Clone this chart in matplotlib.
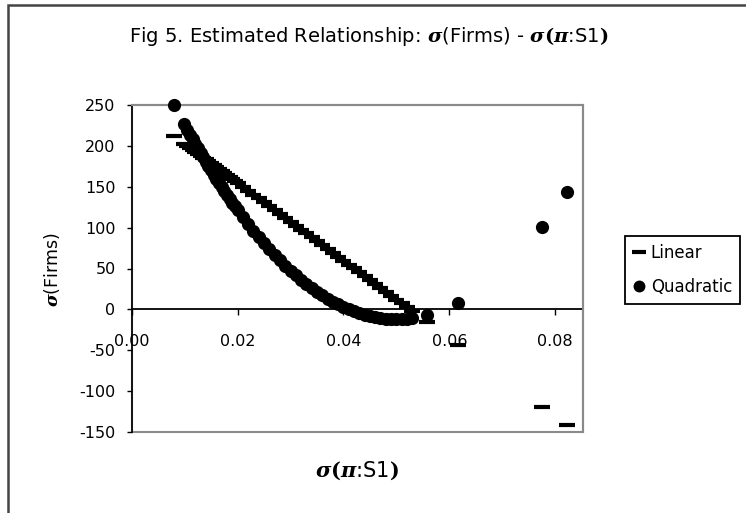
import matplotlib
matplotlib.use('Agg')
import matplotlib.pyplot as plt
from matplotlib.patches import Rectangle

# ---- data ----
x_vals = [0.00805, 0.0099, 0.0105, 0.011, 0.0115, 0.012, 0.0125, 0.013, 0.0135,
          0.014, 0.0145, 0.015, 0.0155, 0.016, 0.0165, 0.017, 0.0175, 0.018,
          0.0185, 0.019, 0.0195, 0.020, 0.021, 0.022, 0.023, 0.024, 0.025,
          0.026, 0.027, 0.028, 0.029, 0.030, 0.031, 0.032, 0.033, 0.034,
          0.035, 0.036, 0.037, 0.038, 0.039, 0.040, 0.041, 0.042, 0.043,
          0.044, 0.045, 0.046, 0.047, 0.048, 0.049, 0.050, 0.051, 0.052,
          0.053, 0.0558, 0.0617, 0.0775, 0.0823]

linear_vals = [211.7, 202.9, 200.0, 197.6, 195.3, 192.9, 190.5, 188.1, 185.7,
               183.4, 181.0, 178.6, 176.2, 173.8, 171.5, 169.1, 166.7, 164.3,
               161.9, 159.6, 157.2, 154.8, 150.0, 145.3, 140.5, 135.8, 131.0,
               126.2, 121.5, 116.7, 112.0, 107.2, 102.4, 97.7, 92.9, 88.2,
               83.4, 78.6, 73.9, 69.1, 64.4, 59.6, 54.8, 50.1, 45.3,
               40.6, 35.8, 31.0, 26.3, 21.5, 16.8, 12.0, 7.2, 2.5,
               -2.3, -15.6, -43.7, -118.9, -141.7]

quadratic_vals = [249.4, 226.8, 219.7, 213.9, 208.2, 202.5, 196.9, 191.3, 185.9,
                  180.5, 175.2, 169.9, 164.8, 159.7, 154.7, 149.7, 144.9, 140.1,
                  135.4, 130.7, 126.2, 121.7, 112.9, 104.4, 96.3, 88.4, 80.8,
                  73.6, 66.6, 59.9, 53.5, 47.4, 41.6, 36.1, 30.9, 26.0,
                  21.4, 17.1, 13.1, 9.4, 6.0, 2.9, 0.0, -2.5, -4.7,
                  -6.7, -8.3, -9.6, -10.7, -11.4, -11.9, -12.0, -11.9, -11.4,
                  -10.7, -7.0, 8.3, 100.3, 143.0]

x_ticks = [0.00, 0.02, 0.04, 0.06, 0.08]
x_tick_labels = ['0.00', '0.02', '0.04', '0.06', '0.08']
y_ticks = [-150, -100, -50, 0, 50, 100, 150, 200, 250]
y_tick_labels = ['-150', '-100', '-50', '0', '50', '100', '150', '200', '250']
series_names = ['Linear', 'Quadratic']

plt.rcParams['font.family'] = ['DejaVu Sans']
plt.rcParams['mathtext.fontset'] = 'dejavuserif'

W, H = 746, 513
fig = plt.figure(figsize=(W / 100, H / 100), dpi=100)
fig.patch.set_facecolor('white')

L, R, T, B = 131.7, 582.7, 105, 432
ax = fig.add_axes([L / W, 1 - B / H, (R - L) / W, (B - T) / H])

ax.plot(x_vals, linear_vals, ls='none', marker='_', ms=11, mew=3.0,
        color='black', label=series_names[0], zorder=3, clip_on=False)
ax.plot(x_vals, quadratic_vals, ls='none', marker='o', ms=9.5, mew=0,
        color='black', label=series_names[1], zorder=3, clip_on=False)

ax.set_xlim(0, 0.0852)
ax.set_ylim(-150, 250)

# plot-area border (grey)
for s in ['top', 'right']:
    ax.spines[s].set_color('#8a8a8a')
    ax.spines[s].set_linewidth(1.5)
ax.add_patch(Rectangle((0, 0), 1, 1, transform=ax.transAxes, fill=False,
                       edgecolor='#8a8a8a', lw=1.5, clip_on=False, zorder=1))
ax.spines['left'].set_color('black')
ax.spines['left'].set_linewidth(1.2)
ax.spines['left'].set_zorder(2)
ax.spines['bottom'].set_position(('data', 0))
ax.spines['bottom'].set_color('black')
ax.spines['bottom'].set_linewidth(1.3)
ax.spines['bottom'].set_zorder(2)

ax.set_xticks(x_ticks, x_tick_labels)
ax.set_yticks(y_ticks, y_tick_labels)
ax.tick_params(axis='x', direction='out', length=4.5, width=1, pad=13,
               labelsize=11.5, colors='black')
ax.tick_params(axis='y', direction='out', length=3.6, width=1, pad=8,
               labelsize=11.5, colors='black')

# titles / labels
sig_pi = (r'$\boldsymbol{\sigma}\mathbf{\left(\right.}\boldsymbol{\pi}$'
          r':S1$\mathbf{\left.\right)}$')
sig_pi = r'$\boldsymbol{\sigma}\mathbf{(}\boldsymbol{\pi}$:S1$\mathbf{)}$'
fig.text(0.494, 1 - 37 / H,
         r'Fig 5. Estimated Relationship: $\boldsymbol{\sigma}$(Firms) - ' + sig_pi,
         ha='center', va='center', fontsize=14)
fig.text(357 / W, 1 - 471 / H, sig_pi, ha='center', va='center', fontsize=15)
fig.text(52 / W, 1 - 270 / H, r'$\boldsymbol{\sigma}$(Firms)', rotation=90,
         ha='center', va='center', fontsize=12.5)

leg = ax.legend(loc='upper left', bbox_to_anchor=(625 / W, 1 - 236 / H),
                bbox_transform=fig.transFigure, frameon=True, fancybox=False,
                edgecolor='black', framealpha=1, handlelength=0.8,
                handletextpad=0.3, borderpad=0.45, labelspacing=1.0,
                fontsize=12, borderaxespad=0, markerscale=0.9)
leg.get_frame().set_linewidth(1.3)

# outer chart-area border (left and top edges visible)
fig.add_artist(Rectangle((8 / W, -1), 3, 1 + (1 - 5 / H), transform=fig.transFigure,
                         fill=False, edgecolor='#444444', lw=1.8))

fig.savefig('out.png', dpi=100)
